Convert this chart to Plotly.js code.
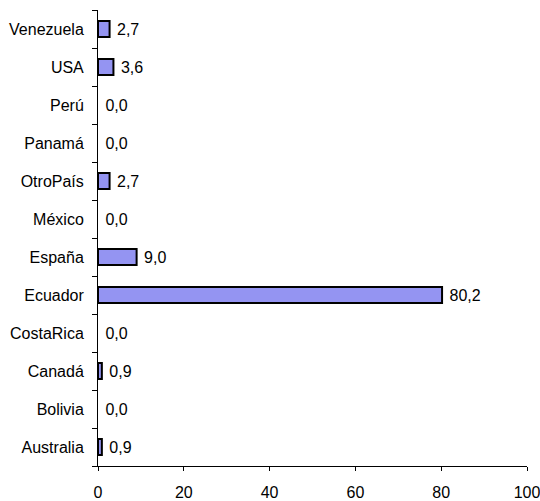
<!DOCTYPE html>
<html>
<head>
<meta charset="utf-8">
<script src="https://cdn.plot.ly/plotly-3.0.1.min.js"></script>
<style>html,body{margin:0;padding:0;background:#fff;}#chart{width:540px;height:501px;}</style>
</head>
<body>
<div id="chart"></div>
<script>
const countries = ["Australia","Bolivia","Canadá","CostaRica","Ecuador","España","México","OtroPaís","Panamá","Perú","USA","Venezuela"];
const percentages = [0.9, 0.0, 0.9, 0.0, 80.2, 9.0, 0.0, 2.7, 0.0, 0.0, 3.6, 2.7];
const xTicks = [0, 20, 40, 60, 80, 100];

const trace = {
  type: 'bar',
  orientation: 'h',
  y: countries,
  x: percentages,
  marker: {color: '#9494f2', line: {color: '#000', width: percentages.map(v => v > 0 ? 2 : 0)}},
  texttemplate: '\u00A0%{x:.1f}',
  textposition: 'outside',
  constraintext: 'none',
  cliponaxis: false,
  textfont: {family: 'Liberation Sans, Arial, sans-serif', size: 16, color: '#000'},
  hoverinfo: 'none'
};

const layout = {
  width: 540, height: 501,
  margin: {l: 98, r: 13, t: 10, b: 35, pad: 0},
  paper_bgcolor: '#fff', plot_bgcolor: '#fff',
  separators: ',.',
  showlegend: false,
  bargap: 0.58,
  font: {family: 'Liberation Sans, Arial, sans-serif', size: 16, color: '#000'},
  xaxis: {
    range: [0, 100], tickvals: xTicks, ticktext: xTicks.map(String),
    showgrid: false, zeroline: false, showline: true, linecolor: '#000', linewidth: 1,
    ticks: 'outside', ticklen: 4, tickcolor: '#000', tickwidth: 1,
    ticklabelstandoff: 8, ticklabeloverflow: 'allow', fixedrange: true
  },
  yaxis: {
    type: 'category', categoryorder: 'array', categoryarray: countries,
    showgrid: false, zeroline: false, showline: true, linecolor: '#000', linewidth: 1,
    ticks: 'outside', ticklen: 5, tickcolor: '#000', tickwidth: 1, tickson: 'boundaries',
    ticklabelstandoff: 10, fixedrange: true
  }
};

Plotly.newPlot('chart', [trace], layout, {displayModeBar: false, staticPlot: true});
</script>
</body>
</html>
